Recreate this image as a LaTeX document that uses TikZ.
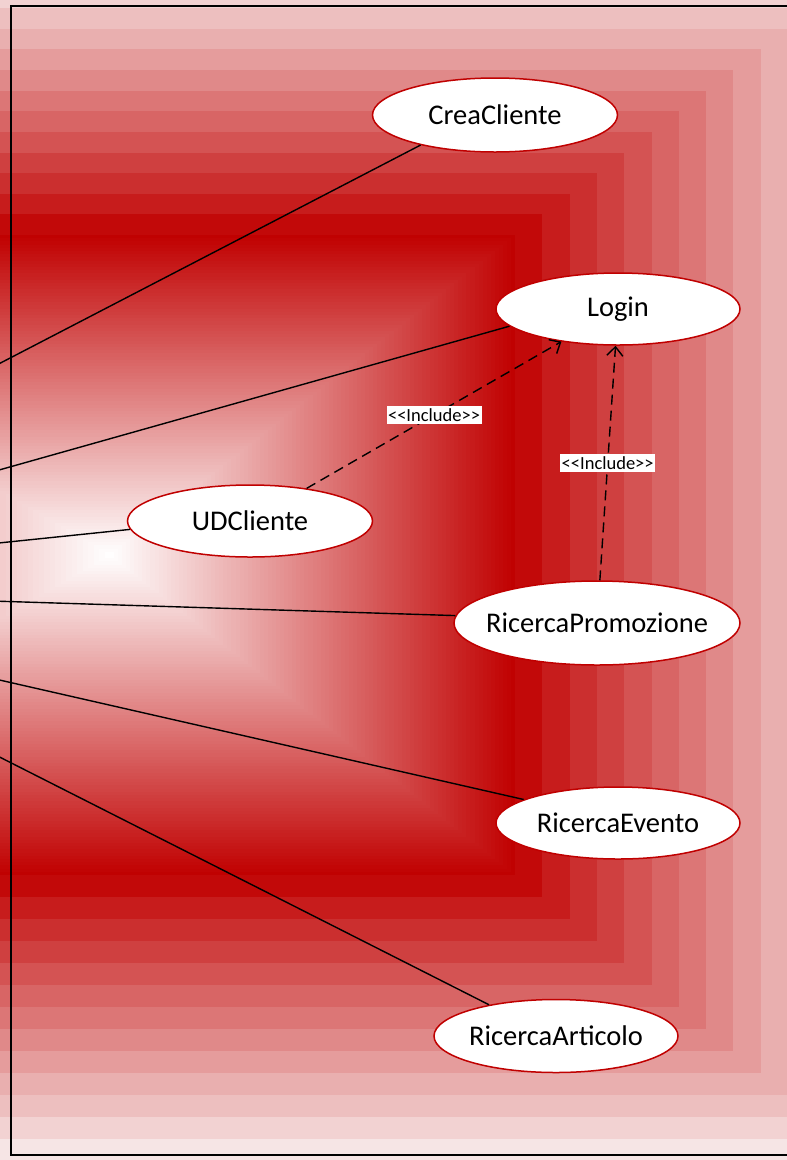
\documentclass[tikz,border=0pt]{standalone}
\usepackage{fontspec}
\setmainfont{Carlito}
\usetikzlibrary{shapes.geometric,arrows.meta}
\definecolor{bgred}{HTML}{C00000}
\definecolor{bgedge}{HTML}{F8ECEC}
\definecolor{ucred}{HTML}{C00000}
\tikzset{
  uc/.style={ellipse, draw=ucred, line width=1.5pt, fill=white, inner sep=0pt,
    font=\fontsize{28.5}{32}\selectfont},
  assoc/.style={draw=black, line width=1.4pt},
  incl/.style={draw=black, line width=1.4pt, dash pattern=on 10pt off 6pt,
    -{Straight Barb[length=9pt,width=16pt,line width=1.4pt]}},
  lbl/.style={fill=white, inner xsep=1.5pt, inner ysep=2.5pt, text=black,
    font=\fontsize{18.5}{20}\selectfont},
}
\newcommand{\uctext}[1]{\makebox[0pt]{#1}}
\newcommand{\incltext}{<\kern0pt<Include>\kern0pt>}
\begin{document}
\begin{tikzpicture}[x=1pt,y=-1pt]
\useasboundingbox (0,0) rectangle (787,1160);
\begin{scope}
\clip (0,0) rectangle (787,1160);
% background: rectangular path gradient
\foreach \i in {13,...,1}{
  \pgfmathsetmacro\u{\i/13}
  \pgfmathtruncatemacro\pc{100*(1-(\i-0.5)/13)}
  \fill[bgred!\pc!bgedge] ({-440+\u*(-600+440)},{235+\u*(-33-235)}) rectangle ({515+\u*(870-515)},{875+\u*(1161-875)});
}
\foreach \j in {100,...,1}{
  \pgfmathsetmacro\s{\j/100}
  \pgfmathsetmacro\pc{100*(\j-0.5)/100}
  \fill[bgred!\pc!white] ({110+\s*(-440-110)},{555+\s*(235-555)}) rectangle ({110+\s*(515-110)},{555+\s*(875-555)});
}
% system boundary
\draw[line width=2pt] (11,6) rectangle (800,1155);
% use cases
\node[uc, minimum width=245pt, minimum height=74pt] (crea)  at (495,115)  {\uctext{CreaCliente}};
\node[uc, minimum width=244pt, minimum height=72pt] (login) at (618,309)  {\uctext{Login}};
\node[uc, minimum width=245pt, minimum height=72pt] (ud)    at (250,521)  {\uctext{UDCliente}};
\node[uc, minimum width=286pt, minimum height=84pt] (rp)    at (597,623)  {\uctext{RicercaPromozione}};
\node[uc, minimum width=244pt, minimum height=72pt] (re)    at (618,823)  {\uctext{RicercaEvento}};
\node[uc, minimum width=244pt, minimum height=73pt] (ra)    at (556,1036) {\uctext{RicercaArticolo}};
% free ends of the associations (actor lies left, outside the picture)
\coordinate (a1) at (-40,384);
\coordinate (a2) at (-40,481);
\coordinate (a3) at (-40,547);
\coordinate (a4) at (-40,600);
\coordinate (a5) at (-40,671);
\coordinate (a6) at (-40,737);
\draw[assoc] (a1) -- (crea.202);
\draw[assoc] (a2) -- (login.189);
\draw[assoc] (a3) -- (ud.184);
\draw[assoc] (a4) -- (rp.177.6);
\draw[assoc] (a5) -- (re.166.4);
\draw[assoc] (a6) -- (ra.155.7);
% include relations
\draw[incl] (ud) -- node[lbl, midway] {\incltext} (login);
\draw[incl] (rp) -- node[lbl, midway] {\incltext} (login);
\end{scope}
\end{tikzpicture}
\end{document}
